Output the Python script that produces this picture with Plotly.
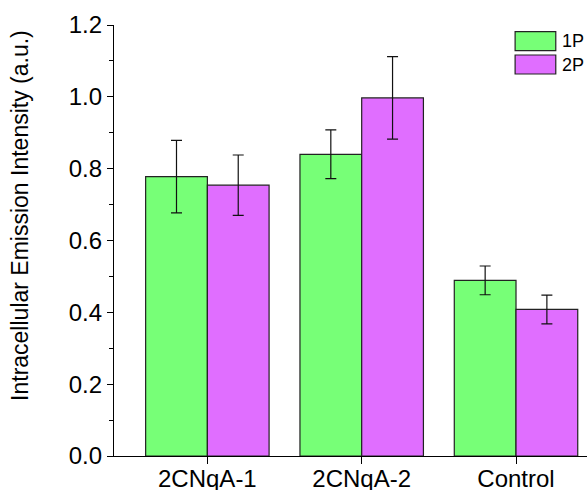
import plotly.graph_objects as go

categories = ["2CNqA-1", "2CNqA-2", "Control"]
series_names = ["1P", "2P"]
values_1p = [0.778, 0.840, 0.489]
errors_1p = [0.101, 0.068, 0.040]
values_2p = [0.754, 0.997, 0.408]
errors_2p = [0.084, 0.115, 0.040]
y_ticks = [0.0, 0.2, 0.4, 0.6, 0.8, 1.0, 1.2]
y_title = "Intracellular Emission Intensity (a.u.)"

colors = ["#77FF77", "#E06EFF"]
edge = "#222222"

fig = go.Figure()
for name, vals, errs, col in [(series_names[0], values_1p, errors_1p, colors[0]),
                              (series_names[1], values_2p, errors_2p, colors[1])]:
    fig.add_trace(go.Bar(
        x=categories, y=vals, name=name, showlegend=False,
        marker=dict(color=col, line=dict(color=edge, width=1.2)),
        error_y=dict(type="data", array=errs, visible=True, color="#111111",
                     thickness=1.2, width=5.5),
    ))

# custom legend (paper coordinates)
leg_x0, leg_x1, leg_text_x = 0.848, 0.934, 0.945
leg_rows = [(0.9404, 0.9845, 0.963), (0.8863, 0.9304, 0.908)]
for (y0, y1, yt), name, col in zip(leg_rows, series_names, colors):
    fig.add_shape(type="rect", xref="paper", yref="paper",
                  x0=leg_x0, x1=leg_x1, y0=y0, y1=y1,
                  fillcolor=col, line=dict(color=edge, width=1.2))
    fig.add_annotation(xref="paper", yref="paper", x=leg_text_x, y=yt,
                       text=name, showarrow=False, xanchor="left", yanchor="middle",
                       borderpad=0, font=dict(size=18))

# y-axis title (placed as in the reference, slightly above plot centre)
fig.add_annotation(xref="paper", yref="paper", x=-0.199, y=0.559,
                   text=y_title, textangle=-90, showarrow=False,
                   xanchor="center", yanchor="middle", font=dict(size=23))

font_family = "Liberation Sans, Arial, sans-serif"
fig.update_layout(
    width=587, height=490,
    margin=dict(l=114, r=0, t=25, b=34),
    paper_bgcolor="white", plot_bgcolor="white",
    barmode="group", bargap=0.2, bargroupgap=0,
    font=dict(family=font_family, size=24, color="black"),
    showlegend=False,
    xaxis=dict(
        type="category", range=[-0.605, 2.46], automargin=False,
        showline=True, linecolor="black", linewidth=1.2,
        ticks="outside", ticklen=7, tickwidth=1.2, tickcolor="black",
        ticklabelstandoff=-6,
        tickfont=dict(size=24), showgrid=False, zeroline=False,
    ),
    yaxis=dict(
        range=[0, 1.2], tickvals=y_ticks, ticktext=[f"{v:.1f}" for v in y_ticks],
        automargin=False,
        showline=True, linecolor="black", linewidth=1.2,
        ticks="outside", ticklen=6, tickwidth=1.2, tickcolor="black",
        minor=dict(dtick=0.1, ticks="outside", ticklen=3.5, tickwidth=1.2, tickcolor="black", showgrid=False),
        tickfont=dict(size=24), showgrid=False, zeroline=False,
    ),
)

fig.write_html(
    "out.html",
    config={"displayModeBar": False},
    post_script="document.body.style.margin='0';document.body.style.overflow='hidden';",
)
